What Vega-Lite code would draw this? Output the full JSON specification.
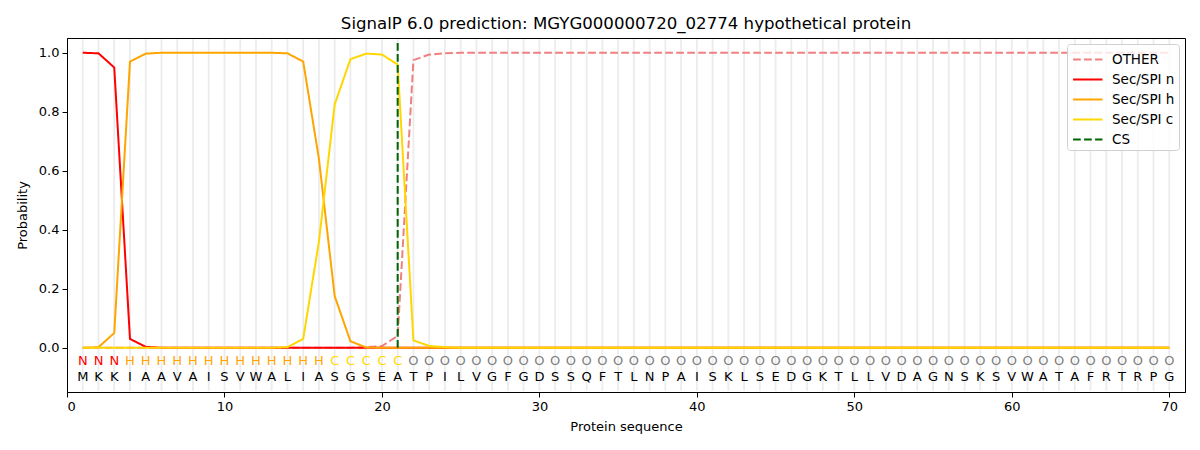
{
  "$schema": "https://vega.github.io/schema/vega-lite/v6.json",
  "width": 1118,
  "height": 354,
  "autosize": "none",
  "padding": {"left": 67, "top": 38, "right": 15, "bottom": 58},
  "title": {"text": "SignalP 6.0 prediction: MGYG000000720_02774 hypothetical protein", "fontSize": 16.6, "fontWeight": "normal", "font": "DejaVu Sans", "offset": 5, "color": "#000"},
  "datasets": {
    "seq": [
      {"pos": 1, "aa": "M", "lab": "N", "other": 0, "sec_n": 1.0, "sec_h": 0, "sec_c": 0},
      {"pos": 2, "aa": "K", "lab": "N", "other": 0, "sec_n": 0.998, "sec_h": 0.002, "sec_c": 0},
      {"pos": 3, "aa": "K", "lab": "N", "other": 0, "sec_n": 0.95, "sec_h": 0.05, "sec_c": 0},
      {"pos": 4, "aa": "I", "lab": "H", "other": 0, "sec_n": 0.03, "sec_h": 0.97, "sec_c": 0},
      {"pos": 5, "aa": "A", "lab": "H", "other": 0, "sec_n": 0.003, "sec_h": 0.997, "sec_c": 0},
      {"pos": 6, "aa": "A", "lab": "H", "other": 0, "sec_n": 0, "sec_h": 1.0, "sec_c": 0},
      {"pos": 7, "aa": "V", "lab": "H", "other": 0, "sec_n": 0, "sec_h": 1.0, "sec_c": 0},
      {"pos": 8, "aa": "A", "lab": "H", "other": 0, "sec_n": 0, "sec_h": 1.0, "sec_c": 0},
      {"pos": 9, "aa": "I", "lab": "H", "other": 0, "sec_n": 0, "sec_h": 1.0, "sec_c": 0},
      {"pos": 10, "aa": "S", "lab": "H", "other": 0, "sec_n": 0, "sec_h": 1.0, "sec_c": 0},
      {"pos": 11, "aa": "V", "lab": "H", "other": 0, "sec_n": 0, "sec_h": 1.0, "sec_c": 0},
      {"pos": 12, "aa": "W", "lab": "H", "other": 0, "sec_n": 0, "sec_h": 1.0, "sec_c": 0},
      {"pos": 13, "aa": "A", "lab": "H", "other": 0, "sec_n": 0, "sec_h": 1.0, "sec_c": 0},
      {"pos": 14, "aa": "L", "lab": "H", "other": 0, "sec_n": 0, "sec_h": 0.998, "sec_c": 0.002},
      {"pos": 15, "aa": "I", "lab": "H", "other": 0, "sec_n": 0, "sec_h": 0.97, "sec_c": 0.03},
      {"pos": 16, "aa": "A", "lab": "H", "other": 0, "sec_n": 0, "sec_h": 0.64, "sec_c": 0.36},
      {"pos": 17, "aa": "S", "lab": "C", "other": 0, "sec_n": 0, "sec_h": 0.175, "sec_c": 0.825},
      {"pos": 18, "aa": "G", "lab": "C", "other": 0, "sec_n": 0, "sec_h": 0.022, "sec_c": 0.978},
      {"pos": 19, "aa": "S", "lab": "C", "other": 0.002, "sec_n": 0, "sec_h": 0.001, "sec_c": 0.997},
      {"pos": 20, "aa": "E", "lab": "C", "other": 0.006, "sec_n": 0, "sec_h": 0, "sec_c": 0.994},
      {"pos": 21, "aa": "A", "lab": "C", "other": 0.04, "sec_n": 0, "sec_h": 0, "sec_c": 0.96},
      {"pos": 22, "aa": "T", "lab": "O", "other": 0.975, "sec_n": 0, "sec_h": 0, "sec_c": 0.025},
      {"pos": 23, "aa": "P", "lab": "O", "other": 0.994, "sec_n": 0, "sec_h": 0, "sec_c": 0.006},
      {"pos": 24, "aa": "I", "lab": "O", "other": 0.998, "sec_n": 0, "sec_h": 0, "sec_c": 0.002},
      {"pos": 25, "aa": "L", "lab": "O", "other": 1.0, "sec_n": 0, "sec_h": 0, "sec_c": 0},
      {"pos": 26, "aa": "V", "lab": "O", "other": 1.0, "sec_n": 0, "sec_h": 0, "sec_c": 0},
      {"pos": 27, "aa": "G", "lab": "O", "other": 1.0, "sec_n": 0, "sec_h": 0, "sec_c": 0},
      {"pos": 28, "aa": "F", "lab": "O", "other": 1.0, "sec_n": 0, "sec_h": 0, "sec_c": 0},
      {"pos": 29, "aa": "G", "lab": "O", "other": 1.0, "sec_n": 0, "sec_h": 0, "sec_c": 0},
      {"pos": 30, "aa": "D", "lab": "O", "other": 1.0, "sec_n": 0, "sec_h": 0, "sec_c": 0},
      {"pos": 31, "aa": "S", "lab": "O", "other": 1.0, "sec_n": 0, "sec_h": 0, "sec_c": 0},
      {"pos": 32, "aa": "S", "lab": "O", "other": 1.0, "sec_n": 0, "sec_h": 0, "sec_c": 0},
      {"pos": 33, "aa": "Q", "lab": "O", "other": 1.0, "sec_n": 0, "sec_h": 0, "sec_c": 0},
      {"pos": 34, "aa": "F", "lab": "O", "other": 1.0, "sec_n": 0, "sec_h": 0, "sec_c": 0},
      {"pos": 35, "aa": "T", "lab": "O", "other": 1.0, "sec_n": 0, "sec_h": 0, "sec_c": 0},
      {"pos": 36, "aa": "L", "lab": "O", "other": 1.0, "sec_n": 0, "sec_h": 0, "sec_c": 0},
      {"pos": 37, "aa": "N", "lab": "O", "other": 1.0, "sec_n": 0, "sec_h": 0, "sec_c": 0},
      {"pos": 38, "aa": "P", "lab": "O", "other": 1.0, "sec_n": 0, "sec_h": 0, "sec_c": 0},
      {"pos": 39, "aa": "A", "lab": "O", "other": 1.0, "sec_n": 0, "sec_h": 0, "sec_c": 0},
      {"pos": 40, "aa": "I", "lab": "O", "other": 1.0, "sec_n": 0, "sec_h": 0, "sec_c": 0},
      {"pos": 41, "aa": "S", "lab": "O", "other": 1.0, "sec_n": 0, "sec_h": 0, "sec_c": 0},
      {"pos": 42, "aa": "K", "lab": "O", "other": 1.0, "sec_n": 0, "sec_h": 0, "sec_c": 0},
      {"pos": 43, "aa": "L", "lab": "O", "other": 1.0, "sec_n": 0, "sec_h": 0, "sec_c": 0},
      {"pos": 44, "aa": "S", "lab": "O", "other": 1.0, "sec_n": 0, "sec_h": 0, "sec_c": 0},
      {"pos": 45, "aa": "E", "lab": "O", "other": 1.0, "sec_n": 0, "sec_h": 0, "sec_c": 0},
      {"pos": 46, "aa": "D", "lab": "O", "other": 1.0, "sec_n": 0, "sec_h": 0, "sec_c": 0},
      {"pos": 47, "aa": "G", "lab": "O", "other": 1.0, "sec_n": 0, "sec_h": 0, "sec_c": 0},
      {"pos": 48, "aa": "K", "lab": "O", "other": 1.0, "sec_n": 0, "sec_h": 0, "sec_c": 0},
      {"pos": 49, "aa": "T", "lab": "O", "other": 1.0, "sec_n": 0, "sec_h": 0, "sec_c": 0},
      {"pos": 50, "aa": "L", "lab": "O", "other": 1.0, "sec_n": 0, "sec_h": 0, "sec_c": 0},
      {"pos": 51, "aa": "L", "lab": "O", "other": 1.0, "sec_n": 0, "sec_h": 0, "sec_c": 0},
      {"pos": 52, "aa": "V", "lab": "O", "other": 1.0, "sec_n": 0, "sec_h": 0, "sec_c": 0},
      {"pos": 53, "aa": "D", "lab": "O", "other": 1.0, "sec_n": 0, "sec_h": 0, "sec_c": 0},
      {"pos": 54, "aa": "A", "lab": "O", "other": 1.0, "sec_n": 0, "sec_h": 0, "sec_c": 0},
      {"pos": 55, "aa": "G", "lab": "O", "other": 1.0, "sec_n": 0, "sec_h": 0, "sec_c": 0},
      {"pos": 56, "aa": "N", "lab": "O", "other": 1.0, "sec_n": 0, "sec_h": 0, "sec_c": 0},
      {"pos": 57, "aa": "S", "lab": "O", "other": 1.0, "sec_n": 0, "sec_h": 0, "sec_c": 0},
      {"pos": 58, "aa": "K", "lab": "O", "other": 1.0, "sec_n": 0, "sec_h": 0, "sec_c": 0},
      {"pos": 59, "aa": "S", "lab": "O", "other": 1.0, "sec_n": 0, "sec_h": 0, "sec_c": 0},
      {"pos": 60, "aa": "V", "lab": "O", "other": 1.0, "sec_n": 0, "sec_h": 0, "sec_c": 0},
      {"pos": 61, "aa": "W", "lab": "O", "other": 1.0, "sec_n": 0, "sec_h": 0, "sec_c": 0},
      {"pos": 62, "aa": "A", "lab": "O", "other": 1.0, "sec_n": 0, "sec_h": 0, "sec_c": 0},
      {"pos": 63, "aa": "T", "lab": "O", "other": 1.0, "sec_n": 0, "sec_h": 0, "sec_c": 0},
      {"pos": 64, "aa": "A", "lab": "O", "other": 1.0, "sec_n": 0, "sec_h": 0, "sec_c": 0},
      {"pos": 65, "aa": "F", "lab": "O", "other": 1.0, "sec_n": 0, "sec_h": 0, "sec_c": 0},
      {"pos": 66, "aa": "R", "lab": "O", "other": 1.0, "sec_n": 0, "sec_h": 0, "sec_c": 0},
      {"pos": 67, "aa": "T", "lab": "O", "other": 1.0, "sec_n": 0, "sec_h": 0, "sec_c": 0},
      {"pos": 68, "aa": "R", "lab": "O", "other": 1.0, "sec_n": 0, "sec_h": 0, "sec_c": 0},
      {"pos": 69, "aa": "P", "lab": "O", "other": 1.0, "sec_n": 0, "sec_h": 0, "sec_c": 0},
      {"pos": 70, "aa": "G", "lab": "O", "other": 1.0, "sec_n": 0, "sec_h": 0, "sec_c": 0}
    ],
    "cs": [{"pos": 21, "series": "cs", "y0": 0, "y1": 1.035}]
  },
  "data": {"name": "seq"},
  "layer": [
    {
      "mark": {"type": "rule", "color": "#ececec", "strokeWidth": 1.8},
      "encoding": {
        "x": {"field": "pos", "type": "quantitative"},
        "y": {"datum": 1.046},
        "y2": {"datum": -0.146}
      }
    },
    {
      "transform": [
        {"fold": ["other", "sec_n", "sec_h", "sec_c"], "as": ["series", "prob"]}
      ],
      "mark": {"type": "line", "strokeWidth": 2, "clip": true},
      "encoding": {
        "x": {
          "field": "pos", "type": "quantitative",
          "scale": {"domain": [0, 71], "nice": false, "zero": false},
          "axis": {"values": [0, 10, 20, 30, 40, 50, 60, 70], "title": "Protein sequence", "grid": false}
        },
        "y": {
          "field": "prob", "type": "quantitative",
          "scale": {"domain": [-0.15, 1.05], "nice": false, "zero": false},
          "axis": {"values": [0, 0.2, 0.4, 0.6, 0.8, 1.0], "format": ".1f", "title": "Probability", "grid": false}
        },
        "color": {
          "field": "series", "type": "nominal",
          "scale": {
            "domain": ["other", "sec_n", "sec_h", "sec_c", "cs"],
            "range": ["#f08080", "#ff0000", "#ffa500", "#ffd700", "#006400"]
          },
          "legend": {
            "title": null,
            "orient": "top-right",
            "offset": 6,
            "padding": 4,
            "fillColor": "rgba(255,255,255,0.8)",
            "strokeColor": "#d0d0d0",
            "cornerRadius": 3,
            "symbolType": "M-0.9,0H1.9",
            "symbolSize": 441,
            "symbolStrokeWidth": 2,
            "labelFontSize": 13.5,
            "labelFont": "DejaVu Sans",
            "labelColor": "#000",
            "rowPadding": 2,
            "labelOffset": 18,
            "labelExpr": "{'other': 'OTHER', 'sec_n': 'Sec/SPI n', 'sec_h': 'Sec/SPI h', 'sec_c': 'Sec/SPI c', 'cs': 'CS'}[datum.label]"
          }
        },
        "strokeDash": {
          "field": "series", "type": "nominal",
          "scale": {
            "domain": ["other", "sec_n", "sec_h", "sec_c", "cs"],
            "range": [[7.7, 3.3], [1, 0], [1, 0], [1, 0], [7.7, 3.3]]
          },
          "legend": null
        }
      }
    },
    {
      "data": {"name": "cs"},
      "mark": {"type": "rule", "strokeWidth": 2},
      "encoding": {
        "x": {"field": "pos", "type": "quantitative"},
        "y": {"field": "y0", "type": "quantitative"},
        "y2": {"field": "y1"},
        "color": {"field": "series", "type": "nominal"},
        "strokeDash": {"field": "series", "type": "nominal"}
      }
    },
    {
      "mark": {"type": "text", "fontSize": 13, "font": "DejaVu Sans", "baseline": "middle", "align": "center"},
      "encoding": {
        "x": {"field": "pos", "type": "quantitative"},
        "y": {"datum": -0.044},
        "text": {"field": "lab"},
        "fill": {
          "field": "lab", "type": "nominal",
          "scale": {"domain": ["N", "H", "C", "O"], "range": ["#ff0000", "#ffa500", "#ffd700", "#808080"]},
          "legend": null
        }
      }
    },
    {
      "mark": {"type": "text", "fontSize": 13, "font": "DejaVu Sans", "baseline": "middle", "align": "center", "color": "#000"},
      "encoding": {
        "x": {"field": "pos", "type": "quantitative"},
        "y": {"datum": -0.098},
        "text": {"field": "aa"}
      }
    }
  ],
  "config": {
    "font": "DejaVu Sans",
    "view": {"stroke": "#000", "strokeWidth": 1},
    "axis": {
      "labelFontSize": 13,
      "titleFontSize": 13,
      "titleFontWeight": "normal",
      "labelColor": "#000",
      "titleColor": "#000",
      "domainColor": "#000",
      "tickColor": "#000",
      "tickSize": 5,
      "labelPadding": 3,
      "labelFont": "DejaVu Sans",
      "titleFont": "DejaVu Sans"
    },
    "axisX": {"titlePadding": 7},
    "axisY": {"titlePadding": 9}
  }
}
